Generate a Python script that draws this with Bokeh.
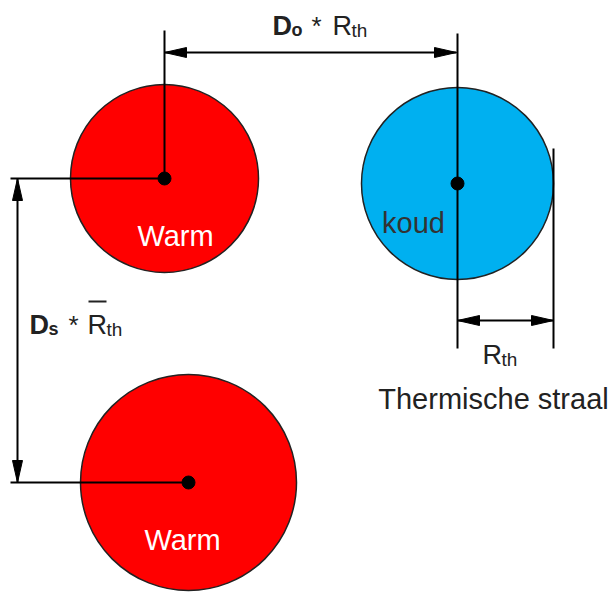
from bokeh.plotting import figure
from bokeh.models import Range1d
from bokeh.core.properties import value
from bokeh.embed import file_html
from bokeh.resources import INLINE

# ---- data (reference pixel coordinates) ----
circle_x = [164, 457, 188]
circle_y = [178, 183, 482]
circle_r = [94, 96, 108]
circle_fill = ["#FF0000", "#00B0F0", "#FF0000"]

circle_labels = ["Warm", "koud", "Warm"]
label_x = [175, 413, 182]
label_y = [235, 222, 539]
label_color = ["#FFFFFF", "#333333", "#FFFFFF"]

# plain lines: (x0, y0, x1, y1)
line_x0 = [164, 457, 553, 10, 10]
line_y0 = [30, 33, 148, 178, 482]
line_x1 = [164, 457, 553, 164, 188]
line_y1 = [178, 348, 348, 178, 482]

# double arrows
arrow_x0 = [164, 17, 457]
arrow_y0 = [52, 178, 320]
arrow_x1 = [456, 17, 553]
arrow_y1 = [52, 482, 320]

FONT = "Liberation Sans"
W, H = 613, 595
DY = -10  # text baseline correction

p = figure(width=W, height=H, output_backend="svg", toolbar_location=None,
           x_range=Range1d(0, W), y_range=Range1d(H, 0),
           min_border=0)
p.axis.visible = False
p.grid.visible = False
p.outline_line_color = None
p.background_fill_color = "white"

p.circle(x=circle_x, y=circle_y, radius=circle_r, fill_color=circle_fill,
         line_color="#222222", line_width=1.5)

p.segment(x0=line_x0, y0=line_y0, x1=line_x1, y1=line_y1,
          line_color="black", line_width=2)
p.segment(x0=arrow_x0, y0=arrow_y0, x1=arrow_x1, y1=arrow_y1,
          line_color="black", line_width=2)

# arrow heads as narrow triangles
head_len, head_half = 22, 5
xs, ys = [], []
for x0, y0, x1, y1 in zip(arrow_x0, arrow_y0, arrow_x1, arrow_y1):
    dx, dy = x1 - x0, y1 - y0
    L = (dx * dx + dy * dy) ** 0.5
    ux, uy = dx / L, dy / L
    nx, ny = -uy, ux
    for (tx, ty, sx) in ((x0, y0, 1), (x1, y1, -1)):
        bx, by = tx + sx * ux * head_len, ty + sx * uy * head_len
        xs.append([tx, bx + nx * head_half, bx - nx * head_half])
        ys.append([ty, by + ny * head_half, by - ny * head_half])
p.patches(xs=xs, ys=ys, fill_color="black", line_color="black")

# centre dots
p.scatter(x=circle_x, y=circle_y, size=13, color="black")

# circle labels
p.text(x=label_x, y=label_y, text=circle_labels, text_color=label_color,
       text_font=value(FONT), text_font_size="29px", text_align="center",
       text_baseline="alphabetic")

# composite labels: pieces (text, x, y, size, style)
pieces = [
    ("D", 272, 35, "27px", "bold"), ("o", 291, 39, "18px", "bold"),
    ("*", 311, 35, "26px", "normal"), ("R", 332, 35, "27px", "normal"),
    ("th", 351, 40, "19px", "normal"),
    ("D", 29, 334, "27px", "bold"), ("s", 48, 338, "18px", "bold"),
    ("*", 68, 334, "26px", "normal"), ("R", 87, 334, "27px", "normal"),
    ("th", 106, 339, "19px", "normal"),
    ("R", 482, 364, "27px", "normal"), ("th", 501, 369, "19px", "normal"),
]
for t, x, y, s, st in pieces:
    p.text(x=[x], y=[y + DY], text=[t], text_font=value(FONT), text_font_size=s,
           text_font_style=st, text_color="#222222", text_align="left",
           text_baseline="alphabetic")

# overline for mean R
p.segment(x0=[88], y0=[301], x1=[106], y1=[301], line_color="#222222", line_width=2)

p.text(x=[493], y=[408 + DY], text=["Thermische straal"], text_font=value(FONT),
       text_font_size="29px", text_color="#222222", text_align="center",
       text_baseline="alphabetic")

open("out.html", "w").write(file_html(p, INLINE))
